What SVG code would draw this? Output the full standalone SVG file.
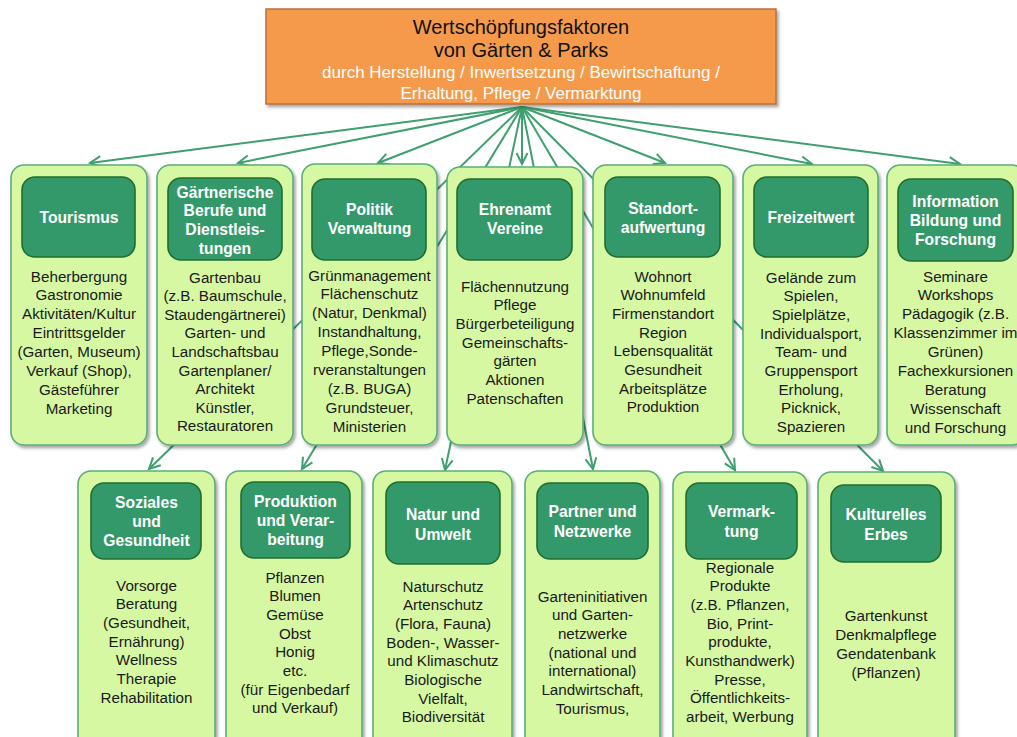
<svg xmlns="http://www.w3.org/2000/svg" width="1017" height="737" viewBox="0 0 1017 737">
<defs>
<filter id="sh" x="-10%" y="-10%" width="130%" height="130%"><feDropShadow dx="2" dy="2.5" stdDeviation="1.5" flood-color="#000" flood-opacity="0.35"/></filter>
<marker id="ah" markerUnits="userSpaceOnUse" markerWidth="14" markerHeight="14" viewBox="0 0 14 14" refX="12" refY="7" orient="auto">
<path d="M1,1.5 L12,7 L1,12.5" fill="none" stroke="#3f9f6f" stroke-width="2"/>
</marker>
<style>
.outer{fill:#d6f8a2;stroke:#5cad78;stroke-width:1.6;filter:url(#sh)}
.inner{fill:#34996a;stroke:#1f6e2e;stroke-width:1.6}
.ti{font-family:"Liberation Sans",Arial,sans-serif;font-weight:bold;font-size:15.7px;fill:#ffffff;text-anchor:middle}
.bd{font-family:"Liberation Sans",Arial,sans-serif;font-size:15.2px;fill:#1a1a1a;text-anchor:middle}
.con line{stroke:#3f9f6f;stroke-width:2;marker-end:url(#ah)}
</style>
</defs>
<rect width="1017" height="737" fill="#ffffff"/>
<g id="connectors" class="con">
<line x1="522" y1="107" x2="90" y2="163"/>
<line x1="522" y1="107" x2="238" y2="163"/>
<line x1="522" y1="107" x2="378" y2="163"/>
<line x1="522" y1="107" x2="522" y2="164"/>
<line x1="522" y1="107" x2="665" y2="163"/>
<line x1="522" y1="107" x2="812" y2="164"/>
<line x1="522" y1="107" x2="960" y2="164"/>
<line x1="522" y1="107" x2="149" y2="469"/>
<line x1="522" y1="107" x2="302" y2="469"/>
<line x1="522" y1="107" x2="445" y2="470"/>
<line x1="522" y1="107" x2="593" y2="469"/>
<line x1="522" y1="107" x2="735" y2="470"/>
<line x1="522" y1="107" x2="883" y2="471"/>
</g>
<g id="root">
<rect x="266" y="9" width="510" height="95" fill="#f59a4b" stroke="#b9703a" stroke-width="1.5" filter="url(#sh)"/>
<text x="521" y="34" font-family="Liberation Sans,Arial,sans-serif" font-size="20" fill="#111" text-anchor="middle">Wertschöpfungsfaktoren</text>
<text x="521" y="57" font-family="Liberation Sans,Arial,sans-serif" font-size="20" fill="#111" text-anchor="middle">von Gärten &amp; Parks</text>
<text x="521" y="78" font-family="Liberation Sans,Arial,sans-serif" font-size="17" fill="#ffffff" text-anchor="middle">durch Herstellung / Inwertsetzung / Bewirtschaftung /</text>
<text x="521" y="99" font-family="Liberation Sans,Arial,sans-serif" font-size="17" fill="#ffffff" text-anchor="middle">Erhaltung, Pflege / Vermarktung</text>
</g>
<g id="tourismus">
<rect class="outer" x="11" y="165" width="136" height="280" rx="13"/>
<rect class="inner" x="22" y="177" width="113" height="80" rx="13"/>
<text class="ti" x="79" y="222.5">Tourismus</text>
<text class="bd"><tspan x="79" y="281.5">Beherbergung</tspan><tspan x="79" y="300.4">Gastronomie</tspan><tspan x="79" y="319.3">Aktivitäten/Kultur</tspan><tspan x="79" y="338.2">Eintrittsgelder</tspan><tspan x="79" y="357.1">(Garten, Museum)</tspan><tspan x="79" y="376">Verkauf (Shop),</tspan><tspan x="79" y="394.9">Gästeführer</tspan><tspan x="79" y="413.8">Marketing</tspan></text>
</g>
<g id="gaertnerische-berufe">
<rect class="outer" x="157" y="165" width="136" height="280" rx="13"/>
<rect class="inner" x="168" y="178" width="114" height="82" rx="13"/>
<text class="ti"><tspan x="225" y="197.5">Gärtnerische</tspan><tspan x="225" y="216.2">Berufe und</tspan><tspan x="225" y="234.9">Dienstleis-</tspan><tspan x="225" y="253.6">tungen</tspan></text>
<text class="bd"><tspan x="225" y="282.5">Gartenbau</tspan><tspan x="225" y="301.1">(z.B. Baumschule,</tspan><tspan x="225" y="319.7">Staudengärtnerei)</tspan><tspan x="225" y="338.3">Garten- und</tspan><tspan x="225" y="356.9">Landschaftsbau</tspan><tspan x="225" y="375.5">Gartenplaner/</tspan><tspan x="225" y="394.1">Architekt</tspan><tspan x="225" y="412.7">Künstler,</tspan><tspan x="225" y="431.3">Restauratoren</tspan></text>
</g>
<g id="politik-verwaltung">
<rect class="outer" x="302" y="164" width="135" height="281" rx="13"/>
<rect class="inner" x="312" y="179" width="114" height="81" rx="13"/>
<text class="ti"><tspan x="369.5" y="214.5">Politik</tspan><tspan x="369.5" y="234">Verwaltung</tspan></text>
<text class="bd"><tspan x="369.5" y="280.5">Grünmanagement</tspan><tspan x="369.5" y="299.4">Flächenschutz</tspan><tspan x="369.5" y="318.3">(Natur, Denkmal)</tspan><tspan x="369.5" y="337.2">Instandhaltung,</tspan><tspan x="369.5" y="356.1">Pflege,Sonde-</tspan><tspan x="369.5" y="375">rveranstaltungen</tspan><tspan x="369.5" y="393.9">(z.B. BUGA)</tspan><tspan x="369.5" y="412.8">Grundsteuer,</tspan><tspan x="369.5" y="431.7">Ministerien</tspan></text>
</g>
<g id="ehrenamt-vereine">
<rect class="outer" x="447" y="167" width="136" height="278" rx="13"/>
<rect class="inner" x="457" y="179" width="115" height="81" rx="13"/>
<text class="ti"><tspan x="515" y="214.5">Ehrenamt</tspan><tspan x="515" y="234">Vereine</tspan></text>
<text class="bd"><tspan x="515" y="291.5">Flächennutzung</tspan><tspan x="515" y="310.2">Pflege</tspan><tspan x="515" y="328.9">Bürgerbeteiligung</tspan><tspan x="515" y="347.6">Gemeinschafts-</tspan><tspan x="515" y="366.3">gärten</tspan><tspan x="515" y="385">Aktionen</tspan><tspan x="515" y="403.7">Patenschaften</tspan></text>
</g>
<g id="standortaufwertung">
<rect class="outer" x="593" y="165" width="140" height="280" rx="13"/>
<rect class="inner" x="605" y="177" width="115" height="80" rx="13"/>
<text class="ti"><tspan x="663" y="213.5">Standort-</tspan><tspan x="663" y="233">aufwertung</tspan></text>
<text class="bd"><tspan x="663" y="281.5">Wohnort</tspan><tspan x="663" y="300.2">Wohnumfeld</tspan><tspan x="663" y="318.9">Firmenstandort</tspan><tspan x="663" y="337.6">Region</tspan><tspan x="663" y="356.3">Lebensqualität</tspan><tspan x="663" y="375">Gesundheit</tspan><tspan x="663" y="393.7">Arbeitsplätze</tspan><tspan x="663" y="412.4">Produktion</tspan></text>
</g>
<g id="freizeitwert">
<rect class="outer" x="743" y="165" width="135" height="280" rx="13"/>
<rect class="inner" x="754" y="177" width="114" height="80" rx="13"/>
<text class="ti" x="811" y="222.5">Freizeitwert</text>
<text class="bd"><tspan x="811" y="282.5">Gelände zum</tspan><tspan x="811" y="301.2">Spielen,</tspan><tspan x="811" y="319.9">Spielplätze,</tspan><tspan x="811" y="338.6">Individualsport,</tspan><tspan x="811" y="357.3">Team- und</tspan><tspan x="811" y="376">Gruppensport</tspan><tspan x="811" y="394.7">Erholung,</tspan><tspan x="811" y="413.4">Picknick,</tspan><tspan x="811" y="432.1">Spazieren</tspan></text>
</g>
<g id="information-bildung">
<rect class="outer" x="887" y="165" width="138" height="280" rx="13"/>
<rect class="inner" x="898" y="179" width="115" height="82" rx="13"/>
<text class="ti"><tspan x="955.5" y="206.5">Information</tspan><tspan x="955.5" y="225.5">Bildung und</tspan><tspan x="955.5" y="244.5">Forschung</tspan></text>
<text class="bd"><tspan x="955.5" y="281.5">Seminare</tspan><tspan x="955.5" y="300.4">Workshops</tspan><tspan x="955.5" y="319.3">Pädagogik  (z.B.</tspan><tspan x="955.5" y="338.2">Klassenzimmer im</tspan><tspan x="955.5" y="357.1">Grünen)</tspan><tspan x="955.5" y="376">Fachexkursionen</tspan><tspan x="955.5" y="394.9">Beratung</tspan><tspan x="955.5" y="413.8">Wissenschaft</tspan><tspan x="955.5" y="432.7">und Forschung</tspan></text>
</g>
<g id="soziales-gesundheit">
<rect class="outer" x="78" y="471" width="137" height="280" rx="13"/>
<rect class="inner" x="91" y="483" width="110" height="76" rx="13"/>
<text class="ti"><tspan x="146.5" y="507.5">Soziales</tspan><tspan x="146.5" y="526.5">und</tspan><tspan x="146.5" y="545.5">Gesundheit</tspan></text>
<text class="bd"><tspan x="146.5" y="590.5">Vorsorge</tspan><tspan x="146.5" y="609.2">Beratung</tspan><tspan x="146.5" y="627.9">(Gesundheit,</tspan><tspan x="146.5" y="646.6">Ernährung)</tspan><tspan x="146.5" y="665.3">Wellness</tspan><tspan x="146.5" y="684">Therapie</tspan><tspan x="146.5" y="702.7">Rehabilitation</tspan></text>
</g>
<g id="produktion-verarbeitung">
<rect class="outer" x="226" y="471" width="136" height="280" rx="13"/>
<rect class="inner" x="241" y="482" width="109" height="76" rx="13"/>
<text class="ti"><tspan x="295.5" y="506.5">Produktion</tspan><tspan x="295.5" y="525.5">und Verar-</tspan><tspan x="295.5" y="544.5">beitung</tspan></text>
<text class="bd"><tspan x="295" y="582.5">Pflanzen</tspan><tspan x="295" y="601.2">Blumen</tspan><tspan x="295" y="619.9">Gemüse</tspan><tspan x="295" y="638.6">Obst</tspan><tspan x="295" y="657.3">Honig</tspan><tspan x="295" y="676">etc.</tspan><tspan x="295" y="694.7">(für Eigenbedarf</tspan><tspan x="295" y="713.4">und  Verkauf)</tspan></text>
</g>
<g id="natur-umwelt">
<rect class="outer" x="373" y="471" width="139" height="280" rx="13"/>
<rect class="inner" x="386" y="482" width="114" height="82" rx="13"/>
<text class="ti"><tspan x="443" y="519.5">Natur und</tspan><tspan x="443" y="539.5">Umwelt</tspan></text>
<text class="bd"><tspan x="443" y="591.5">Naturschutz</tspan><tspan x="443" y="610.2">Artenschutz</tspan><tspan x="443" y="628.9">(Flora, Fauna)</tspan><tspan x="443" y="647.6">Boden-, Wasser-</tspan><tspan x="443" y="666.3">und  Klimaschutz</tspan><tspan x="443" y="685">Biologische</tspan><tspan x="443" y="703.7">Vielfalt,</tspan><tspan x="443" y="722.4">Biodiversität</tspan></text>
</g>
<g id="partner-netzwerke">
<rect class="outer" x="525" y="471" width="135" height="280" rx="13"/>
<rect class="inner" x="537" y="483" width="111" height="76" rx="13"/>
<text class="ti"><tspan x="592.5" y="516.5">Partner und</tspan><tspan x="592.5" y="536.5">Netzwerke</tspan></text>
<text class="bd"><tspan x="592.5" y="601.5">Garteninitiativen</tspan><tspan x="592.5" y="620.2">und  Garten-</tspan><tspan x="592.5" y="638.9">netzwerke</tspan><tspan x="592.5" y="657.6">(national und</tspan><tspan x="592.5" y="676.3">international)</tspan><tspan x="592.5" y="695">Landwirtschaft,</tspan><tspan x="592.5" y="713.7">Tourismus,</tspan></text>
</g>
<g id="vermarktung">
<rect class="outer" x="673" y="472" width="134" height="280" rx="13"/>
<rect class="inner" x="686" y="483" width="111" height="76" rx="13"/>
<text class="ti"><tspan x="741.5" y="516.5">Vermark-</tspan><tspan x="741.5" y="536.5">tung</tspan></text>
<text class="bd"><tspan x="740" y="572.5">Regionale</tspan><tspan x="740" y="591.2">Produkte</tspan><tspan x="740" y="609.9">(z.B. Pflanzen,</tspan><tspan x="740" y="628.6">Bio, Print-</tspan><tspan x="740" y="647.3">produkte,</tspan><tspan x="740" y="666">Kunsthandwerk)</tspan><tspan x="740" y="684.7">Presse,</tspan><tspan x="740" y="703.4">Öffentlichkeits-</tspan><tspan x="740" y="722.1">arbeit, Werbung</tspan></text>
</g>
<g id="kulturelles-erbe">
<rect class="outer" x="818" y="472" width="137" height="280" rx="13"/>
<rect class="inner" x="831" y="485" width="110" height="77" rx="13"/>
<text class="ti"><tspan x="886" y="519.5">Kulturelles</tspan><tspan x="886" y="539.5">Erbes</tspan></text>
<text class="bd"><tspan x="886" y="620.5">Gartenkunst</tspan><tspan x="886" y="639.5">Denkmalpflege</tspan><tspan x="886" y="658.5">Gendatenbank</tspan><tspan x="886" y="677.5">(Pflanzen)</tspan></text>
</g>
</svg>
